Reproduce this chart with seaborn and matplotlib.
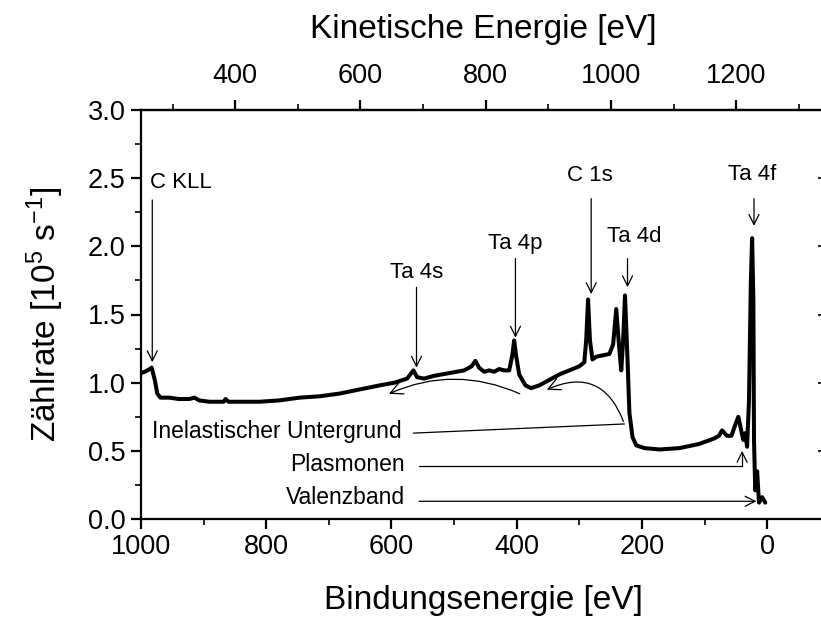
import numpy as np
import pandas as pd
import matplotlib
matplotlib.use("Agg")
import matplotlib.pyplot as plt
from matplotlib.patches import FancyArrowPatch
import seaborn as sns

# Spectrum: binding energy [eV] and count rate [1e5 1/s]
binding_energy = [1000, 994, 986, 983, 978, 974, 969, 955, 939, 923, 915, 907, 891, 868, 865, 860,
                  835, 811, 779, 747, 715, 683, 651, 619, 595, 575, 570, 565, 559, 548, 532, 508,
                  484, 472, 466, 460, 452, 444, 436, 428, 420, 412, 407, 404, 401, 396, 386, 377,
                  364, 348, 332, 316, 300, 292, 289, 286, 283, 279, 273, 263, 252, 246, 241, 236,
                  233, 230, 227, 223, 220, 215, 209, 196, 172, 140, 109, 85, 77, 72, 64, 57,
                  51, 46, 41, 38, 35, 32, 29, 26, 24, 22, 21, 19, 16, 13, 8, 3]
count_rate = [1.07, 1.08, 1.10, 1.11, 1.02, 0.92, 0.89, 0.89, 0.88, 0.88, 0.89, 0.87, 0.86, 0.86, 0.88, 0.86,
              0.86, 0.86, 0.87, 0.89, 0.90, 0.92, 0.95, 0.98, 1.00, 1.03, 1.06, 1.09, 1.04, 1.03, 1.05, 1.07,
              1.09, 1.12, 1.16, 1.11, 1.08, 1.09, 1.08, 1.10, 1.09, 1.09, 1.20, 1.31, 1.20, 1.06, 0.98, 0.96,
              0.98, 1.02, 1.06, 1.09, 1.12, 1.15, 1.31, 1.61, 1.31, 1.17, 1.19, 1.20, 1.21, 1.28, 1.54, 1.24,
              1.09, 1.31, 1.64, 1.17, 0.78, 0.60, 0.54, 0.52, 0.51, 0.52, 0.55, 0.59, 0.61, 0.65, 0.61, 0.61,
              0.69, 0.75, 0.64, 0.58, 0.63, 0.53, 0.87, 1.75, 2.06, 1.61, 0.58, 0.21, 0.35, 0.12, 0.16, 0.12]

# Peak labels: text, arrow x (BE), arrow start y, arrow tip y, text x, text y
peak_labels = ["C KLL", "Ta 4s", "Ta 4p", "C 1s", "Ta 4d", "Ta 4f"]
peak_arrow_x = [982, 560, 402, 281, 223, 21]
peak_arrow_top = [2.34, 1.70, 1.91, 2.35, 1.91, 2.35]
peak_arrow_tip = [1.15, 1.11, 1.33, 1.65, 1.70, 2.15]
peak_text_x = [985, 560, 402, 283, 213, 24]
peak_text_y = [2.47, 1.81, 2.02, 2.52, 2.07, 2.53]

photon_minus_work = 1249.5  # KE = hv - phi - BE

df = pd.DataFrame({"BE": binding_energy, "I": count_rate})

sns.set_style("ticks")
plt.rcParams["font.family"] = ["Liberation Sans", "DejaVu Sans"]
plt.rcParams["mathtext.fontset"] = "custom"
plt.rcParams["mathtext.rm"] = "Liberation Sans"
plt.rcParams["mathtext.it"] = "Liberation Sans"
for k in ["text.color", "axes.labelcolor", "xtick.color", "ytick.color", "axes.edgecolor"]:
    plt.rcParams[k] = "black"

fig = plt.figure(figsize=(8.21, 6.18), dpi=100)
ax = fig.add_axes([141 / 821, 1 - 519 / 618, (826 - 141) / 821, (519 - 110) / 618])

sns.lineplot(data=df, x="BE", y="I", ax=ax, color="black", linewidth=2.9, sort=False, estimator=None)

ax.set_xlim(1000, -94)
ax.set_ylim(0, 3.0)
ax.set_xticks([1000, 800, 600, 400, 200, 0])
ax.set_xticks([900, 700, 500, 300, 100], minor=True)
ax.set_yticks([0.0, 0.5, 1.0, 1.5, 2.0, 2.5, 3.0])
ax.set_yticklabels(["0.0", "0.5", "1.0", "1.5", "2.0", "2.5", "3.0"])
ax.set_yticks([0.25, 0.75, 1.25, 1.75, 2.25, 2.75], minor=True)
for s in ax.spines.values():
    s.set_linewidth(1.6)
    s.set_color("black")
ax.tick_params(which="major", direction="out", length=7, width=1.6, labelsize=19.5, colors="black", pad=4)
ax.tick_params(which="minor", direction="out", length=4, width=1.2)
ax.set_xlabel("Bindungsenergie [eV]", fontsize=24, labelpad=18)
ax.set_ylabel("Zählrate [10$^5$ s$^{-1}$]", fontsize=24, labelpad=16)

f = lambda x: photon_minus_work - x
top = ax.secondary_xaxis("top", functions=(f, f))
top.set_xticks([400, 600, 800, 1000, 1200])
top.set_xticks([300, 500, 700, 900, 1100, 1300], minor=True)
top.tick_params(which="major", direction="out", length=7, width=1.6, labelsize=19.5, pad=8)
top.tick_params(which="minor", direction="out", length=4, width=1.2)
top.spines["top"].set_linewidth(1.6)
top.set_xlabel("Kinetische Energie [eV]", fontsize=24, labelpad=18)

right = ax.secondary_yaxis("right")
right.set_yticks([0.5, 1.0, 1.5, 2.0, 2.5])
right.tick_params(direction="in", length=5.5, width=1.2, labelright=False)

# Peak annotations
for lab, ax_x, y0, y1, tx, ty in zip(peak_labels, peak_arrow_x, peak_arrow_top, peak_arrow_tip,
                                      peak_text_x, peak_text_y):
    ax.annotate("", xy=(ax_x, y1), xytext=(ax_x, y0),
                arrowprops=dict(arrowstyle="->", color="black", lw=0.9, mutation_scale=18,
                                shrinkA=0, shrinkB=0))
    ha = "left" if lab == "C KLL" else "center"
    ax.text(tx, ty, lab, fontsize=16, ha=ha, va="center")

# Inelastic background label
ax.text(584, 0.645, "Inelastischer Untergrund", fontsize=16.5, ha="right", va="center")
ax.plot([565, 228], [0.63, 0.697], color="black", lw=0.9)
ax.add_patch(FancyArrowPatch((228, 0.697), (356, 0.94), connectionstyle="arc3,rad=0.55",
                             arrowstyle="->", mutation_scale=22, lw=0.9, color="black"))
ax.add_patch(FancyArrowPatch((391, 0.91), (608, 0.91), connectionstyle="arc3,rad=0.23",
                             arrowstyle="->", mutation_scale=22, lw=0.9, color="black"))

# Plasmonen
ax.text(579, 0.40, "Plasmonen", fontsize=16.5, ha="right", va="center")
ax.annotate("", xy=(40, 0.50), xytext=(556, 0.39),
            arrowprops=dict(arrowstyle="->", color="black", lw=0.9, mutation_scale=18,
                            shrinkA=0, shrinkB=0,
                            connectionstyle="angle,angleA=0,angleB=90,rad=0"))
# Valenzband
ax.text(578, 0.16, "Valenzband", fontsize=16.5, ha="right", va="center")
ax.annotate("", xy=(17, 0.13), xytext=(556, 0.13),
            arrowprops=dict(arrowstyle="->", color="black", lw=0.9, mutation_scale=18,
                            shrinkA=0, shrinkB=0))

fig.savefig("out.png", dpi=100)
